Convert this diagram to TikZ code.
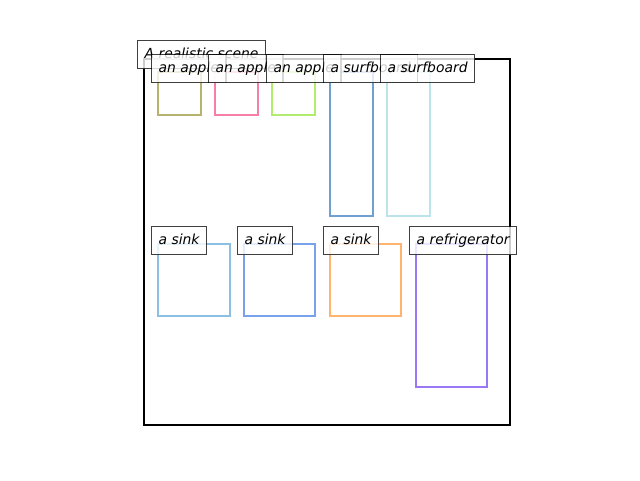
\documentclass[tikz,border=0pt]{standalone}
\usepackage{fontspec}
\setmainfont{DejaVu Sans}
\usetikzlibrary{positioning}
\definecolor{cOlive}{HTML}{B5B36E}
\definecolor{cPink}{HTML}{F57FA6}
\definecolor{cGreen}{HTML}{B2EC6C}
\definecolor{cSteel}{HTML}{6F9FD3}
\definecolor{cCyan}{HTML}{BDE3EA}
\definecolor{cSky}{HTML}{8BBFE3}
\definecolor{cCorn}{HTML}{78A3EC}
\definecolor{cOrange}{HTML}{FFB36E}
\definecolor{cPurple}{HTML}{9A78F5}
\tikzset{
  objbox/.style={line width=2.5pt},
  lbl/.style={draw=black, draw opacity=0.75, fill=white, fill opacity=0.8, text opacity=1,
    line width=1.3pt, anchor=north west, minimum height=28pt, inner xsep=7pt, inner ysep=0pt,
    text height=10pt, text depth=3pt,
    font=\fontsize{13.9}{16}\selectfont\itshape},
}
\begin{document}
\begin{tikzpicture}[x=1pt,y=-1pt]
\useasboundingbox (0,0) rectangle (640,480);
% frame
\draw[line width=2.6pt] (144,59) rectangle (510,425);
% object boxes
\draw[objbox, cOlive] (158,72) rectangle (201,115);
\draw[objbox, cPink] (215,72) rectangle (258,115);
\draw[objbox, cGreen] (272,72) rectangle (315,115);
\draw[objbox, cSteel] (330,72) rectangle (373,216);
\draw[objbox, cCyan] (387,72) rectangle (430,216);
\draw[objbox, cSky] (158,244) rectangle (230,316);
\draw[objbox, cCorn] (244,244) rectangle (315,316);
\draw[objbox, cOrange] (330,244) rectangle (401,316);
\draw[objbox, cPurple] (416,244) rectangle (487,387);
% labels
\node[lbl] (title) at (137,40) {A realistic scene};
\node[lbl] (apple1) at (151,54) {an apple};
\node[lbl] (apple2) at (208,54) {an apple};
\node[lbl] (apple3) at (266,54) {an apple};
\node[lbl] (surf1) at (323,54) {a surfboard};
\node[lbl] (surf2) at (380,54) {a surfboard};
\node[lbl] (sink1) at (151,226) {a sink};
\node[lbl] (sink2) at (237,226) {a sink};
\node[lbl] (sink3) at (323,226) {a sink};
\node[lbl] (fridge) at (409,226) {a refrigerator};
\end{tikzpicture}
\end{document}
